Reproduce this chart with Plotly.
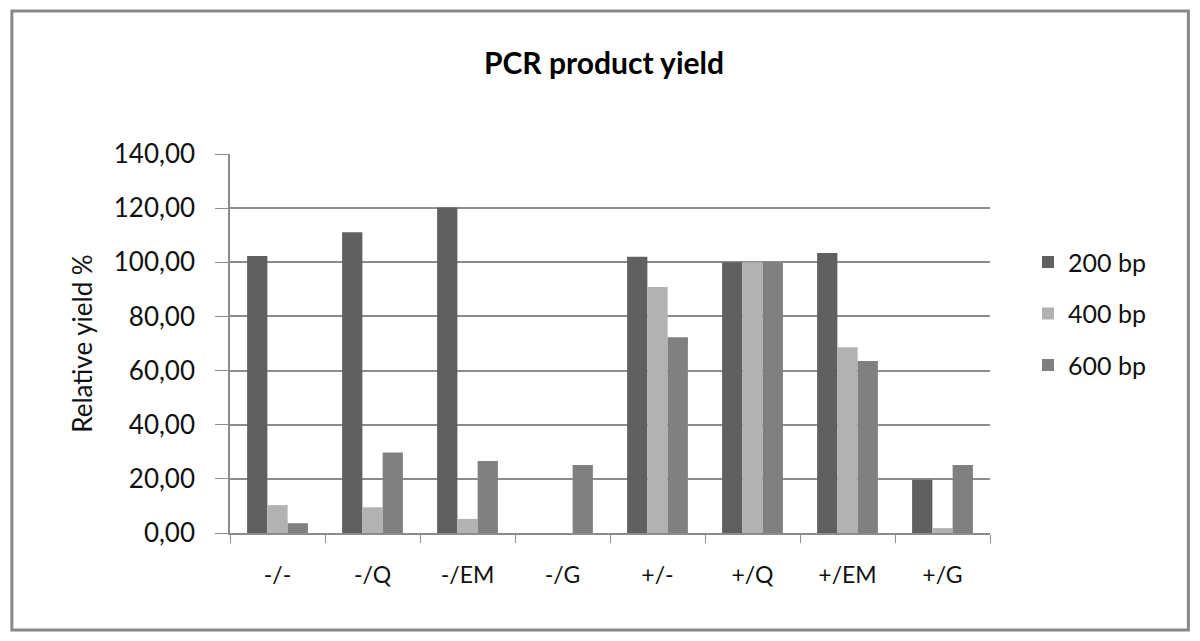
import plotly.graph_objects as go

categories = ['-/-', '-/Q', '-/EM', '-/G', '+/-', '+/Q', '+/EM', '+/G']
series_names = ['200 bp', '400 bp', '600 bp']
yield_200 = [102.3, 111.1, 120.2, 0.0, 102.0, 100.0, 103.4, 19.7]
yield_400 = [10.3, 9.5, 5.2, 0.0, 90.9, 100.0, 68.6, 1.8]
yield_600 = [3.6, 29.7, 26.6, 25.1, 72.3, 100.0, 63.5, 25.1]
y_ticks = [0, 20, 40, 60, 80, 100, 120, 140]

colors = ['#606060', '#b2b2b2', '#808080']
font_family = 'Lato, Open Sans, sans-serif'

fig = go.Figure()

# one bar trace per fragment size
for name, vals, col in zip(series_names, [yield_200, yield_400, yield_600], colors):
    fig.add_trace(go.Bar(
        x=categories, y=vals, name=name, legendgroup=name,
        marker=dict(color=col, line=dict(width=0)),
    ))

# page body has an 8px margin, so the figure is a bit smaller than the window
fig.update_layout(
    width=1192, height=633,
    margin=dict(l=222, r=210, t=146, b=108),
    plot_bgcolor='white',
    paper_bgcolor='white',
    separators=', ',
    barmode='group',
    bargap=0.36,
    bargroupgap=0,
    font=dict(family=font_family, color='#111111', size=22),
    title=dict(
        text='<b>PCR product yield</b>',
        x=0.5, xanchor='center', y=0.913, yanchor='middle',
        font=dict(size=30, family=font_family, color='#000000'),
    ),
    legend=dict(
        x=1.05, xanchor='left', y=0.775, yanchor='top',
        font=dict(size=25, family=font_family),
        tracegroupgap=16,
        bgcolor='rgba(0,0,0,0)',
    ),
    xaxis=dict(
        showline=True, linecolor='#8c8c8c', linewidth=1.5,
        ticks='outside', tickson='boundaries', ticklen=8, tickcolor='#8c8c8c',
        tickfont=dict(size=23),
        ticklabelstandoff=21,
        showgrid=False,
    ),
    yaxis=dict(
        range=[0, 140],
        tickvals=y_ticks,
        tickformat='.2f',
        showline=True, linecolor='#8c8c8c', linewidth=1.5,
        ticks='outside', ticklen=13, tickcolor='#8c8c8c',
        ticklabelstandoff=15,
        tickfont=dict(size=26),
        showgrid=True, gridcolor='#8c8c8c', gridwidth=1.5,
        zeroline=False,
        title=dict(text='Relative yield %', font=dict(size=26), standoff=14),
    ),
    shapes=[dict(
        type='rect', xref='paper', yref='paper',
        x0=-0.287, x1=1.261, y0=-0.256, y1=1.377,
        line=dict(color='#888888', width=3),
        fillcolor='rgba(0,0,0,0)', layer='below',
    )],
)

fig.write_html('out.html')
